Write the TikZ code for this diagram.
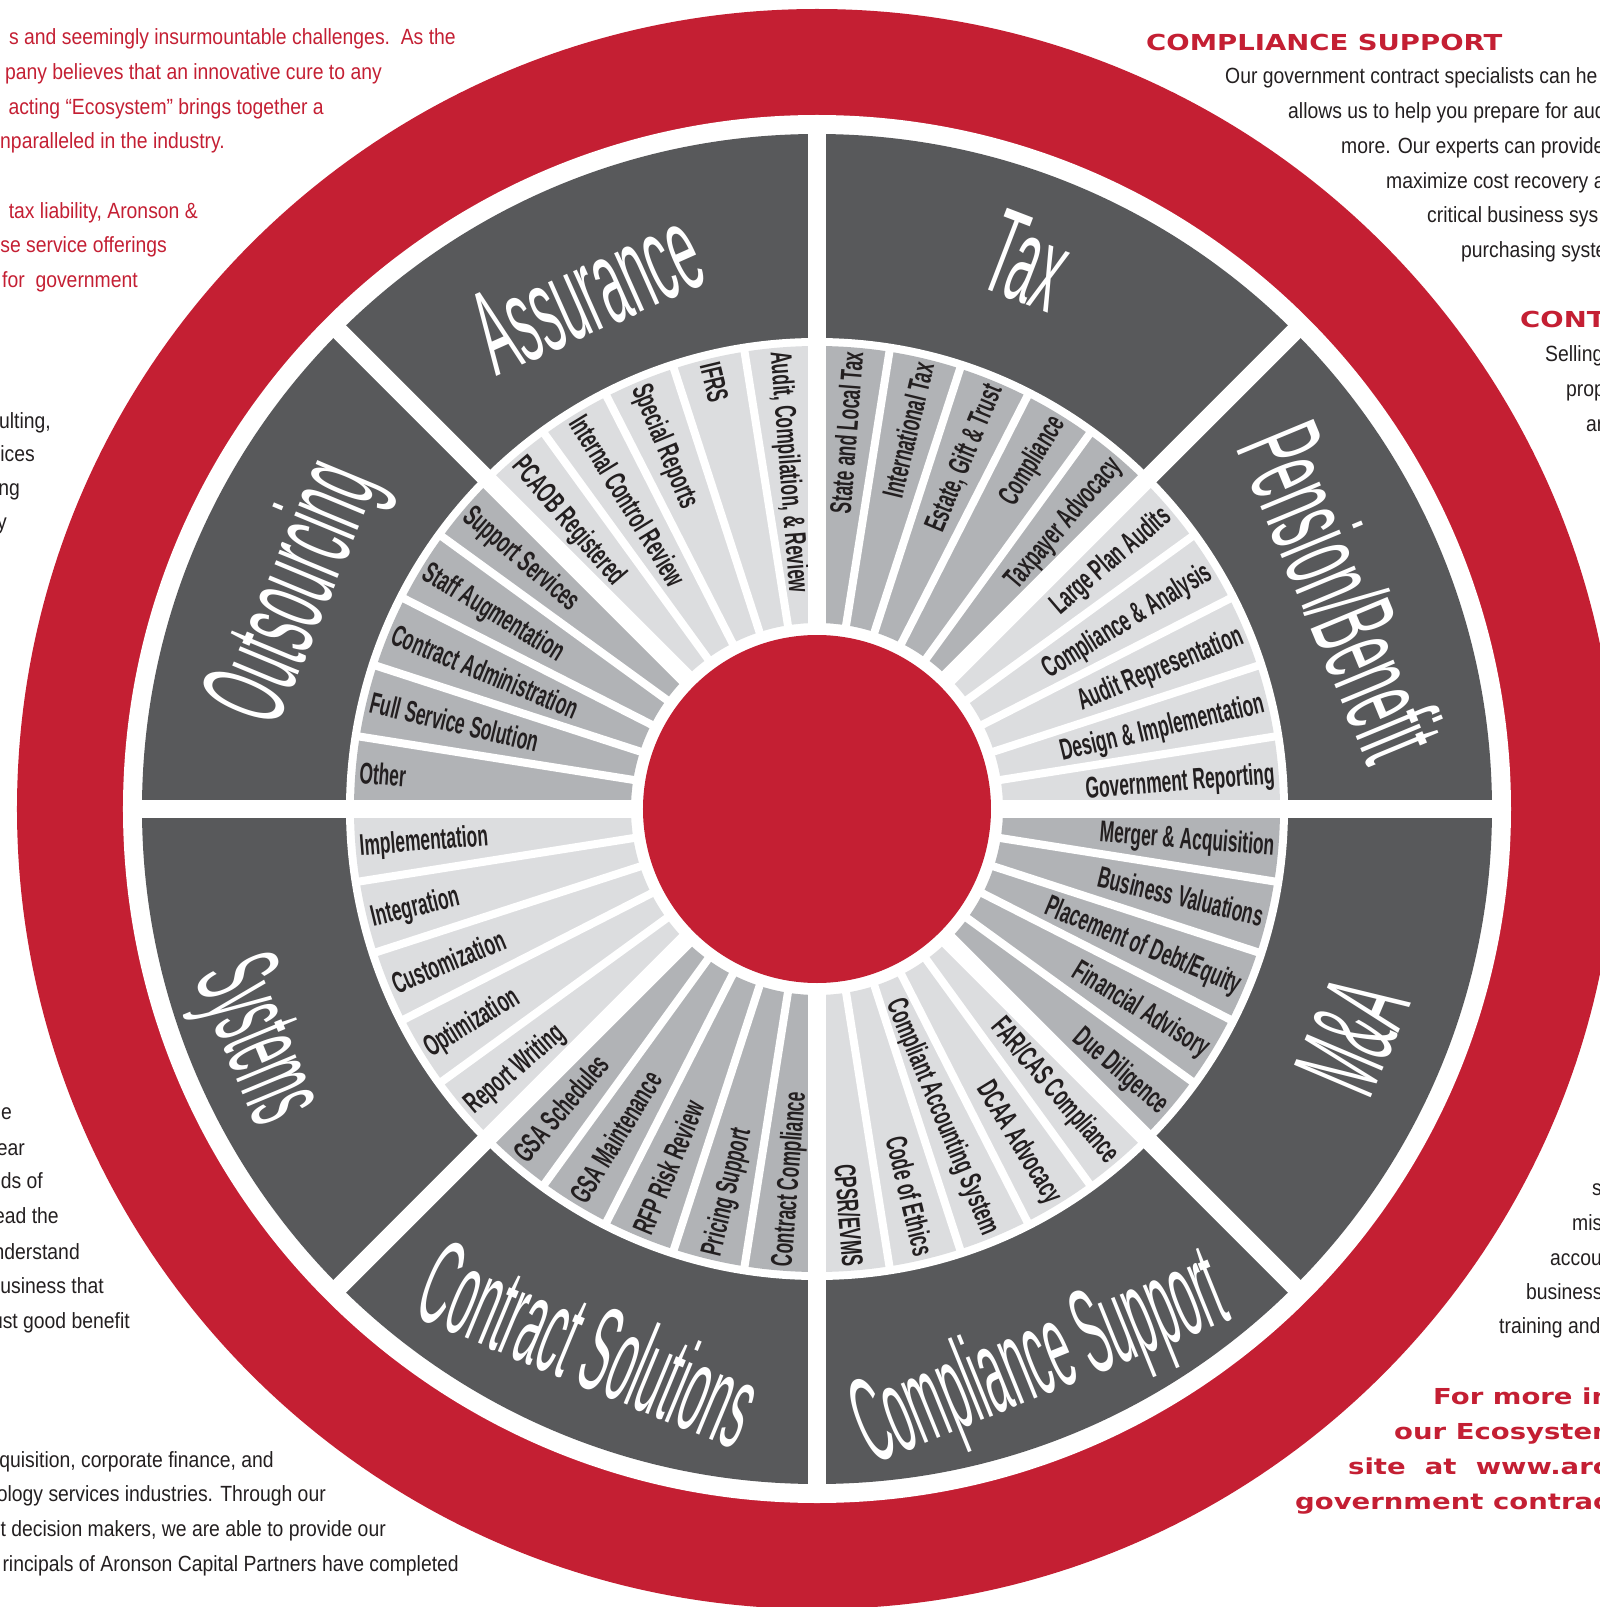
\documentclass[tikz,border=0pt]{standalone}
\usepackage{fontspec}
\setmainfont{Liberation Sans}
\newfontfamily\headfont{DejaVu Sans}[FakeStretch=1.25]
\newfontfamily\bodyfont{Liberation Sans}[FakeStretch=0.88]
\newfontfamily\itemfont{Liberation Sans}[FakeStretch=0.58]
\newfontfamily\sectorfont{Liberation Sans}[FakeStretch=0.41]
\newfontfamily\sectornarrowfont{Liberation Sans}[FakeStretch=0.355]
\definecolor{ecored}{RGB}{196,31,51}
\definecolor{ecodark}{RGB}{88,89,91}
\definecolor{ecolight}{RGB}{220,221,223}
\definecolor{ecomid}{RGB}{177,179,182}
\definecolor{ecoink}{RGB}{35,31,32}

\begin{document}
\begin{tikzpicture}[x=1pt, y=1pt,
    sectorlabel/.style={text=white, inner sep=0pt, text height=87pt, text depth=0pt,
        font=\sectorfont\fontsize{121}{121}\selectfont},
    narrowlabel/.style={sectorlabel, font=\sectornarrowfont\fontsize{121}{121}\selectfont},
    itemlabel/.style={text=ecoink, inner sep=0pt, text height=21pt, text depth=0pt,
        font=\itemfont\bfseries\fontsize{30}{30}\selectfont},
    bodyred/.style={text=ecored, inner sep=0pt, font=\bodyfont\fontsize{22}{22}\selectfont},
    bodyink/.style={text=ecoink, inner sep=0pt, font=\bodyfont\fontsize{22}{22}\selectfont},
    headred/.style={text=ecored, inner sep=0pt, font=\headfont\bfseries\fontsize{22}{22}\selectfont}]
    \useasboundingbox (-817,-798) rectangle (783,809);
    \clip (-817,-798) rectangle (783,809);

    % rings
    \fill[ecored] (0,0) circle (800);
    \fill[white] (0,0) circle (694);
    \fill[ecodark] (0,0) circle (675);
    \fill[white] (0,0) circle (471);

    % service wedges
    \foreach \t [count=\i from 0] in {Government Reporting, Design \& Implementation, Audit Representation, Compliance \& Analysis, Large Plan Audits,
        Taxpayer Advocacy, Compliance, {Estate, Gift \& Trust}, International Tax, State and Local Tax,
        {Audit, Compilation, \& Review}, IFRS, Special Reports, Internal Control Review, PCAOB Registered,
        Support Services, Staff Augmentation, Contract Administration, Full Service Solution, Other,
        Implementation, Integration, Customization, Optimization, Report Writing,
        GSA Schedules, GSA Maintenance, RFP Risk Review, Pricing Support, Contract Compliance,
        CPSR/EVMS, Code of Ethics, Compliant Accounting System, DCAA Advocacy, FAR/CAS Compliance,
        Due Diligence, Financial Advisory, Placement of Debt/Equity, Business Valuations, Merger \& Acquisition} {
        \pgfmathsetmacro\a{\i*9+4.5}
        \pgfmathtruncatemacro\s{mod(int(\i/5),2)}
        \pgfmathtruncatemacro\rt{cos(\a)>0}
        \ifnum\s=0 \def\col{ecolight}\else\def\col{ecomid}\fi
        \fill[\col] ({\a-4.5}:186) arc[start angle=\a-4.5, end angle=\a+4.5, radius=186]
            -- ({\a+4.5}:463) arc[start angle=\a+4.5, end angle=\a-4.5, radius=463] -- cycle;
        \ifnum\rt=1
            \node[itemlabel, anchor=east, rotate=\a] (item\i) at (\a:459) {\t};
        \else
            \node[itemlabel, anchor=west, rotate=\a+180] (item\i) at (\a:459) {\t};
        \fi
    }
    \foreach \a in {0,9,...,351}
        \draw[white, line width=8] (\a:180) -- (\a:468);
    \foreach \a in {0,45,...,315}
        \draw[white, line width=18] (\a:170) -- (\a:690);
    \fill[ecored] (0,0) circle (174);

    % practice areas
    \node[sectorlabel, rotate=-67.5] (pension) at (22.5:569) {Pension/Benefit};
    \node[sectorlabel, rotate=-21] (tax) at (69:589) {Tax};
    \node[sectorlabel, rotate=24] (assurance) at (114:569) {Assurance};
    \node[sectorlabel, rotate=67.5] (outsourcing) at (157.5:574) {Outsourcing};
    \node[narrowlabel, rotate=-67.5] (systems) at (202.5:596) {Systems};
    \node[narrowlabel, rotate=-22.5] (contract) at (247:580) {Contract Solutions};
    \node[narrowlabel, rotate=22] (compliance) at (292:585) {Compliance Support};
    \node[sectorlabel, rotate=67] (ma) at (337:579) {M\&A};

    % text round the wheel, top left
    \node[bodyred, anchor=base east] (tl1) at (-361,764) {s and seemingly insurmountable challenges.\ \ As the};
    \node[bodyred, anchor=base east] (tl2) at (-435,729) {pany believes that an innovative cure to any};
    \node[bodyred, anchor=base east] (tl3) at (-493,694) {acting “Ecosystem” brings together a};
    \node[bodyred, anchor=base east] (tl4) at (-592,660) {nparalleled in the industry.};
    \node[bodyred, anchor=base east] (tl5) at (-619,590) {tax liability, Aronson \&};
    \node[bodyred, anchor=base east] (tl6) at (-650,556) {se service offerings};
    \node[bodyred, anchor=base east] (tl7) at (-679,521) {for\ \ government};
    % left
    \node[bodyink, anchor=base east] (l1) at (-766,380) {ulting,};
    \node[bodyink, anchor=base east] (l2) at (-782,347) {ices};
    \node[bodyink, anchor=base east] (l3) at (-797,313) {ng};
    \node[bodyink, anchor=base east] (l4) at (-810,279) {y};
    \node[bodyink, anchor=base east] (l5) at (-805,-310) {e};
    \node[bodyink, anchor=base east] (l6) at (-792,-346) {ear};
    \node[bodyink, anchor=base east] (l7) at (-774,-379) {ds of};
    \node[bodyink, anchor=base east] (l8) at (-758,-414) {ead the};
    \node[bodyink, anchor=base east] (l9) at (-737,-450) {nderstand};
    \node[bodyink, anchor=base east] (l10) at (-713,-484) {usiness that};
    \node[bodyink, anchor=base east] (l11) at (-687,-519) {ust good benefit};
    % bottom left
    \node[bodyink, anchor=base east] (bl1) at (-543,-658) {quisition, corporate finance, and};
    \node[bodyink, anchor=base east] (bl2) at (-491,-692) {ology services industries. Through our};
    \node[bodyink, anchor=base east] (bl3) at (-431,-727) {t decision makers, we are able to provide our};
    \node[bodyink, anchor=base east] (bl4) at (-358,-762) {rincipals of Aronson Capital Partners have completed};
    % top right
    \node[headred, anchor=base west] (tr0) at (329,758) {COMPLIANCE SUPPORT};
    \node[bodyink, anchor=base west] (tr1) at (408,725) {Our government contract specialists can he};
    \node[bodyink, anchor=base west] (tr2) at (471,690) {allows us to help you prepare for aud};
    \node[bodyink, anchor=base west] (tr3) at (524,655) {more. Our experts can provide};
    \node[bodyink, anchor=base west] (tr4) at (569,620) {maximize cost recovery a};
    \node[bodyink, anchor=base west] (tr5) at (610,586) {critical business sys};
    \node[bodyink, anchor=base west] (tr6) at (644,551) {purchasing syste};
    \node[headred, anchor=base west] (tr7) at (703,481) {CONT};
    \node[bodyink, anchor=base west] (tr8) at (728,447) {Selling};
    \node[bodyink, anchor=base west] (tr9) at (749,412) {prop};
    \node[bodyink, anchor=base west] (tr10) at (769,377) {ar};
    % bottom right
    \node[bodyink, anchor=base west] (br1) at (775,-386) {s};
    \node[bodyink, anchor=base west] (br2) at (755,-421) {mis};
    \node[bodyink, anchor=base west] (br3) at (733,-456) {accou};
    \node[bodyink, anchor=base west] (br4) at (709,-490) {business};
    \node[bodyink, anchor=base west] (br5) at (682,-524) {training and};
    \node[headred, anchor=base west] (br6) at (616,-595) {For more in};
    \node[headred, anchor=base west] (br7) at (577,-630) {our Ecosystem};
    \node[headred, anchor=base west] (br8) at (531,-665) {site\ \ at\ \ www.arc};
    \node[headred, anchor=base west] (br9) at (478,-700) {government contrac};
\end{tikzpicture}
\end{document}
